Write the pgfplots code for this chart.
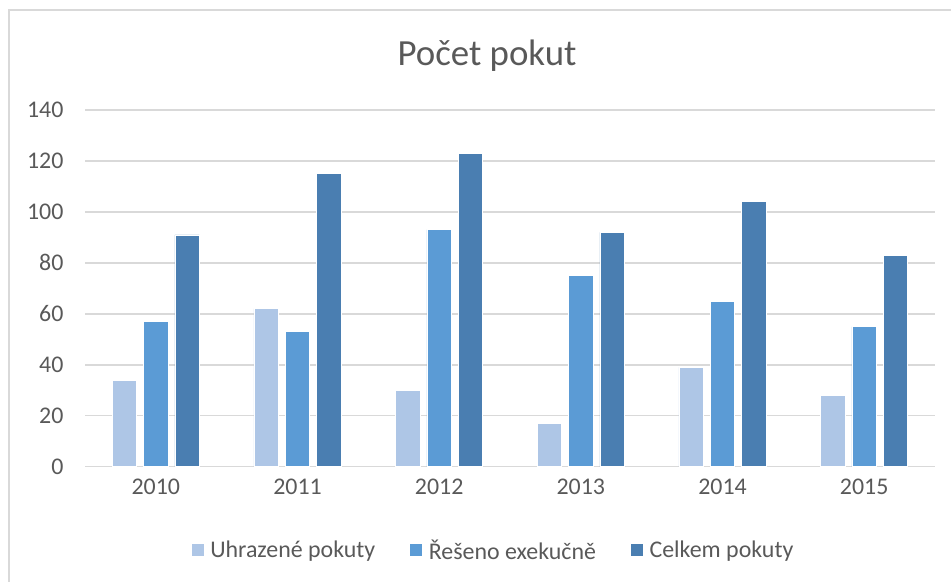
\documentclass[border=0pt]{standalone}
\usepackage{fontspec}
\setmainfont{Carlito}
\usepackage{pgfplots}
\pgfplotsset{compat=1.18}
\definecolor{lightbar}{HTML}{AEC6E6}
\definecolor{midbar}{HTML}{5B9BD5}
\definecolor{darkbar}{HTML}{4A7EB1}
\definecolor{txt}{HTML}{595959}
\definecolor{gridc}{HTML}{D9D9D9}
\begin{document}
\begin{tikzpicture}[x=1bp,y=1bp]
\useasboundingbox (0,0) rectangle (951,582);
\draw[gridc, line width=1.5bp] (9,0) -- (9,572) -- (951,572);
\node[txt, font=\fontsize{37}{44}\selectfont] at (487,526) {Počet pokut};
\begin{axis}[
  at={(85bp,115.3bp)}, anchor=south west,
  width=850bp, height=356.7bp, scale only axis,
  ybar=6.8bp, bar width=24.5bp,
  xmin=-0.5, xmax=5.5, ymin=0, ymax=140,
  xtick=data, xticklabels={2010,2011,2012,2013,2014,2015},
  ytick={0,20,...,140},
  ymajorgrids, major grid style={gridc, line width=1.5bp},
  axis line style={draw=none}, major tick length=0pt,
  tick label style={txt, font=\fontsize{24}{29}\selectfont},
  /pgf/number format/assume math mode=true,
  yticklabel style={xshift=-18bp},
  xticklabel style={yshift=-9bp},
  legend columns=3,
  legend style={draw=none, at={(0.48,-0.2335)}, anchor=center,
    font=\fontsize{24}{29}\selectfont, text=txt,
    /tikz/every even column/.append style={column sep=32bp}},
  legend image code/.code={\fill[#1] (0bp,-6.5bp) rectangle (13bp,6.5bp); \path (17bp,0bp);},
]
\addplot[fill=lightbar, draw=white, line width=0.6bp] coordinates {(0,34) (1,62) (2,30) (3,17) (4,39) (5,28)};
\addplot[fill=midbar, draw=white, line width=0.6bp] coordinates {(0,57) (1,53) (2,93) (3,75) (4,65) (5,55)};
\addplot[fill=darkbar, draw=white, line width=0.6bp] coordinates {(0,91) (1,115) (2,123) (3,92) (4,104) (5,83)};
\legend{Uhrazené pokuty, Řešeno exekučně, Celkem pokuty}
\end{axis}
\end{tikzpicture}
\end{document}
